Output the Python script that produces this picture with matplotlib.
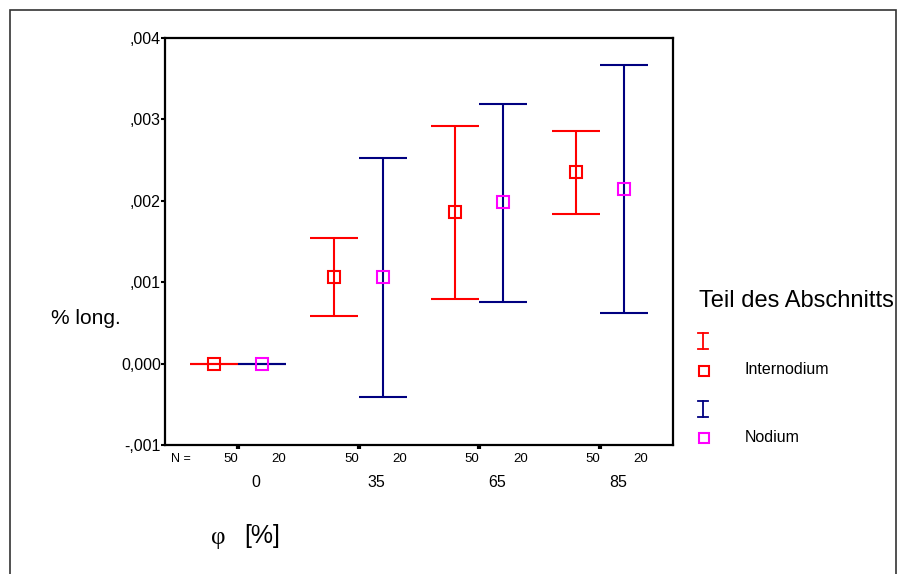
import matplotlib

matplotlib.use("Agg")
import matplotlib.pyplot as plt
from matplotlib.lines import Line2D
from matplotlib.patches import Rectangle

plt.rcParams["font.family"] = ["Liberation Sans", "DejaVu Sans"]

# Data
groups = ["0", "35", "65", "85"]
n_counts = ["50", "20"]
y_ticks = [-0.001, 0.0, 0.001, 0.002, 0.003, 0.004]
y_ticklabels = ["-,001", "0,000", ",001", ",002", ",003", ",004"]

inter_mean = [0.0, 0.00106, 0.001862, 0.00235]
inter_low = [0.0, 0.000588, 0.000794, 0.001842]
inter_high = [0.0, 0.001547, 0.002923, 0.002857]

nod_mean = [0.0, 0.00106, 0.001985, 0.002141]
nod_low = [0.0, -0.000407, 0.00076, 0.000622]
nod_high = [0.0, 0.002522, 0.003186, 0.003672]

RED = "#ff0000"
NAVY = "#000080"
MAGENTA = "#ff00ff"

W, H = 901, 574


def fx(px):
    return px / W


def fy(py):
    return 1 - py / H


fig = plt.figure(figsize=(W / 100, H / 100), dpi=100)
fig.patch.set_facecolor("white")

# outer frame (open at the bottom, like the cropped original)
fig.add_artist(Rectangle((fx(10), fy(600)), fx(896) - fx(10), fy(10) - fy(600),
                         transform=fig.transFigure, fill=False,
                         edgecolor="#333333", linewidth=1.2))

ax = fig.add_axes([fx(165), fy(445), fx(673) - fx(165), fy(38) - fy(445)])
for side in ax.spines:
    ax.spines[side].set_linewidth(1.6)
    ax.spines[side].set_color("black")

pos = list(range(len(groups)))
x_inter = [p - 0.2 for p in pos]
x_nod = [p + 0.2 for p in pos]

for xs, mean, low, high, bar_color, mark_color in (
    (x_inter, inter_mean, inter_low, inter_high, RED, RED),
    (x_nod, nod_mean, nod_low, nod_high, NAVY, MAGENTA),
):
    yerr = [[m - lo for m, lo in zip(mean, low)], [hi - m for m, hi in zip(mean, high)]]
    ax.errorbar(xs, mean, yerr=yerr, fmt="none", ecolor=bar_color,
                elinewidth=1.5, capsize=17.3, capthick=1.5, zorder=2)
    ax.plot(xs, mean, "s", mfc="none", mec=mark_color, ms=8, mew=1.5, zorder=3)

ax.set_xlim(-0.605, 3.607)
ax.set_ylim(-0.001, 0.004)
ax.set_xticks(pos)
ax.set_xticklabels([])
ax.tick_params(axis="x", length=3, width=3, color="black")
ax.set_yticks(y_ticks)
ax.set_yticklabels(y_ticklabels, fontsize=11.5)
ax.tick_params(axis="y", length=3, width=1.5, pad=0, color="black")

# N counts and category labels under the axis (SPSS places them a bit off-centre)
xt = ax.get_xaxis_transform()
ax.text(-0.47, -0.035, "N =", transform=xt, ha="center", va="center", fontsize=9)
for p, g in zip(pos, groups):
    ax.text(p - 0.06, -0.035, n_counts[0], transform=xt, ha="center", va="center", fontsize=9.5)
    ax.text(p + 0.34, -0.035, n_counts[1], transform=xt, ha="center", va="center", fontsize=9.5)
    ax.text(p + 0.15, -0.091, g, transform=xt, ha="center", va="center", fontsize=11.5)

fig.text(fx(51), fy(318), "% long.", ha="left", va="center", fontsize=15)
fig.text(fx(218), fy(538), "φ", ha="center", va="center", fontsize=18,
         family=["Liberation Serif", "DejaVu Serif"])
fig.text(fx(262), fy(536), "[%]", ha="center", va="center", fontsize=18)

# legend, SPSS style
fig.text(fx(699), fy(301), "Teil des Abschnitts", ha="left", va="center", fontsize=17)


def legend_bar(cx, cy, color):
    fig.add_artist(Line2D([fx(cx), fx(cx)], [fy(cy - 8), fy(cy + 8)], color=color, lw=1.3))
    for yy in (cy - 8, cy + 8):
        fig.add_artist(Line2D([fx(cx - 5), fx(cx + 5)], [fy(yy), fy(yy)], color=color, lw=1.3))


def legend_square(cx, cy, color):
    fig.add_artist(Line2D([fx(cx)], [fy(cy)], marker="s", ms=7, mfc="none",
                          mec=color, mew=1.5, linestyle="none"))


legend_bar(703, 341, RED)
legend_square(704, 371, RED)
fig.text(fx(745), fy(370), "Internodium", ha="left", va="center", fontsize=11.5)
legend_bar(703, 409, NAVY)
legend_square(704, 438, MAGENTA)
fig.text(fx(745), fy(437), "Nodium", ha="left", va="center", fontsize=11.5)

fig.savefig("out.png", dpi=100, facecolor="white")
